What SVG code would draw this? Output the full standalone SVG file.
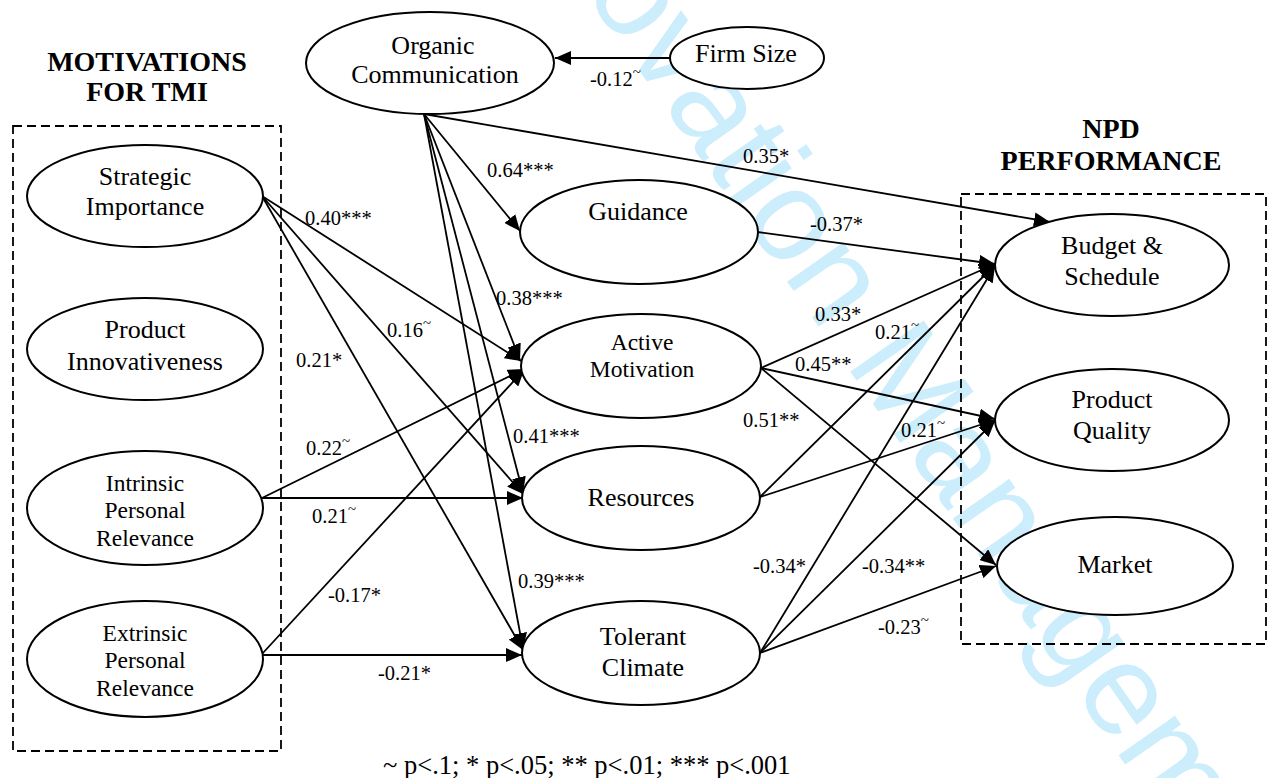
<svg xmlns="http://www.w3.org/2000/svg" width="1270" height="778" viewBox="0 0 1270 778">
<style>
.n ellipse{fill:#fff;stroke:#000;stroke-width:2}
.t{font-family:"Liberation Serif","Times New Roman",serif;font-size:26px;fill:#000;text-anchor:middle}
.s{font-size:23.5px}
.h{font-family:"Liberation Serif","Times New Roman",serif;font-size:28px;font-weight:bold;fill:#000;text-anchor:middle}
.l{font-family:"Liberation Serif","Times New Roman",serif;font-size:20.5px;fill:#000}
.tl{font-size:15px}
.e line{stroke:#000;stroke-width:1.8;marker-end:url(#a)}
.box{fill:none;stroke:#000;stroke-width:1.8;stroke-dasharray:9 5}
.wm{font-family:"Liberation Sans",Arial,sans-serif;font-size:130px;fill:#ccedfb}
</style>
<defs>
<marker id="a" markerUnits="userSpaceOnUse" markerWidth="17" markerHeight="14" refX="16" refY="7" orient="auto">
<path d="M0,0 L16,7 L0,14 z" fill="#000"/>
</marker>
</defs>
<rect width="1270" height="778" fill="#fff"/>
<g id="watermark"><text class="wm" transform="translate(583,-10) rotate(55)">ovation Manageme</text></g>

<g id="groups">
<rect class="box" x="13" y="126" width="268" height="625"/>
<rect class="box" x="961" y="194" width="305" height="450"/>
<text class="h" x="147" y="71">MOTIVATIONS</text>
<text class="h" x="147" y="101">FOR TMI</text>
<text class="h" x="1111" y="138">NPD</text>
<text class="h" x="1111" y="170">PERFORMANCE</text>
</g>

<g id="connectors" class="e">
<line x1="670" y1="58" x2="555" y2="58"/>
<line x1="424" y1="114" x2="520" y2="231"/>
<line x1="424" y1="114" x2="1050" y2="222"/>
<line x1="424" y1="114" x2="520" y2="360"/>
<line x1="424" y1="114" x2="523" y2="493"/>
<line x1="424" y1="114" x2="523" y2="649"/>
<line x1="262" y1="196" x2="521" y2="361"/>
<line x1="262" y1="196" x2="523" y2="494"/>
<line x1="262" y1="196" x2="523" y2="650"/>
<line x1="262" y1="498" x2="524" y2="369"/>
<line x1="262" y1="498" x2="523" y2="498"/>
<line x1="262" y1="654" x2="524" y2="370"/>
<line x1="262" y1="655" x2="522" y2="655"/>
<line x1="757" y1="232" x2="995" y2="264"/>
<line x1="761" y1="368" x2="995" y2="264"/>
<line x1="761" y1="368" x2="995" y2="419"/>
<line x1="761" y1="368" x2="996" y2="565"/>
<line x1="760" y1="497" x2="995" y2="265"/>
<line x1="760" y1="497" x2="995" y2="420"/>
<line x1="760" y1="653" x2="995" y2="266"/>
<line x1="760" y1="653" x2="995" y2="421"/>
<line x1="760" y1="653" x2="996" y2="566"/>
</g>

<g id="edge-labels" class="l">
<text x="590" y="86">-0.12<tspan class="tl" dy="-9">~</tspan></text>
<text x="487" y="177">0.64***</text>
<text x="743" y="163">0.35*</text>
<text x="305" y="225">0.40***</text>
<text x="496" y="305">0.38***</text>
<text x="387" y="337">0.16<tspan class="tl" dy="-9">~</tspan></text>
<text x="296" y="367">0.21*</text>
<text x="306" y="455">0.22<tspan class="tl" dy="-9">~</tspan></text>
<text x="513" y="443">0.41***</text>
<text x="312" y="523">0.21<tspan class="tl" dy="-9">~</tspan></text>
<text x="328" y="602">-0.17*</text>
<text x="518" y="588">0.39***</text>
<text x="378" y="680">-0.21*</text>
<text x="810" y="231">-0.37*</text>
<text x="815" y="321">0.33*</text>
<text x="875" y="339">0.21<tspan class="tl" dy="-9">~</tspan></text>
<text x="795" y="371">0.45**</text>
<text x="743" y="427">0.51**</text>
<text x="901" y="437">0.21<tspan class="tl" dy="-9">~</tspan></text>
<text x="753" y="573">-0.34*</text>
<text x="862" y="573">-0.34**</text>
<text x="878" y="634">-0.23<tspan class="tl" dy="-9">~</tspan></text>
</g>

<g id="organic-communication" class="n"><ellipse cx="430" cy="63" rx="124" ry="51"/><text class="t" x="433" y="54">Organic</text><text class="t" x="435" y="83">Communication</text></g>
<g id="firm-size" class="n"><ellipse cx="747" cy="58" rx="77" ry="31"/><text class="t" x="746" y="62">Firm Size</text></g>
<g id="strategic-importance" class="n"><ellipse cx="145" cy="196" rx="118" ry="51"/><text class="t" x="145" y="185">Strategic</text><text class="t" x="145" y="215">Importance</text></g>
<g id="product-innovativeness" class="n"><ellipse cx="145" cy="349" rx="118" ry="51"/><text class="t" x="145" y="338">Product</text><text class="t" x="145" y="370">Innovativeness</text></g>
<g id="intrinsic-personal-relevance" class="n"><ellipse cx="145" cy="508" rx="118" ry="57"/><text class="t s" x="145" y="491">Intrinsic</text><text class="t s" x="145" y="518">Personal</text><text class="t s" x="145" y="546">Relevance</text></g>
<g id="extrinsic-personal-relevance" class="n"><ellipse cx="145" cy="659" rx="118" ry="58"/><text class="t s" x="145" y="641">Extrinsic</text><text class="t s" x="145" y="668">Personal</text><text class="t s" x="145" y="696">Relevance</text></g>
<g id="guidance" class="n"><ellipse cx="639" cy="232" rx="119" ry="52"/><text class="t" x="638" y="220">Guidance</text></g>
<g id="active-motivation" class="n"><ellipse cx="641" cy="366" rx="120" ry="52"/><text class="t s" x="642" y="350">Active</text><text class="t s" x="642" y="377">Motivation</text></g>
<g id="resources" class="n"><ellipse cx="641" cy="498" rx="119" ry="52"/><text class="t" x="641" y="506">Resources</text></g>
<g id="tolerant-climate" class="n"><ellipse cx="641" cy="653" rx="119" ry="52"/><text class="t" x="643" y="645">Tolerant</text><text class="t" x="643" y="676">Climate</text></g>
<g id="budget-schedule" class="n"><ellipse cx="1112" cy="265" rx="117" ry="51"/><text class="t" x="1112" y="254">Budget &amp;</text><text class="t" x="1112" y="285">Schedule</text></g>
<g id="product-quality" class="n"><ellipse cx="1112" cy="420" rx="117" ry="51"/><text class="t" x="1112" y="408">Product</text><text class="t" x="1112" y="439">Quality</text></g>
<g id="market" class="n"><ellipse cx="1115" cy="566" rx="118" ry="49"/><text class="t" x="1115" y="573">Market</text></g>

<g id="footnote"><text class="l" x="383" y="774" style="font-size:26.5px">~ p&lt;.1; * p&lt;.05; ** p&lt;.01; *** p&lt;.001</text></g>
</svg>
